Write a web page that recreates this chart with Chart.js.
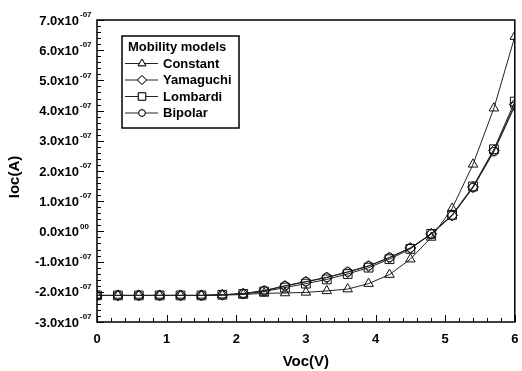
<!DOCTYPE html>
<html>
<head>
<meta charset="utf-8">
<script src="https://cdn.jsdelivr.net/npm/chart.js@4/dist/chart.umd.min.js"></script>
<style>
    html, body { margin: 0; padding: 0; background: #fff; }
    #wrap { width: 522px; height: 371px; }
</style>
</head>
<body>
<div id="wrap"><canvas id="chart"></canvas></div>
<script>
// Voc (V) sweep and Ioc (A) for each mobility model
const voc = [0, 0.3, 0.6, 0.9, 1.2, 1.5, 1.8, 2.1, 2.4, 2.7, 3.0, 3.3, 3.6, 3.9, 4.2, 4.5, 4.8, 5.1, 5.4, 5.7, 6.0];
const constantIoc = [-2.12e-7, -2.12e-7, -2.12e-7, -2.12e-7, -2.12e-7, -2.12e-7, -2.11e-7, -2.09e-7, -2.05e-7, -2.04e-7, -2.02e-7, -1.97e-7, -1.91e-7, -1.73e-7, -1.43e-7, -0.92e-7, -0.2e-7, 0.76e-7, 2.22e-7, 4.08e-7, 6.45e-7];
const yamaguchiIoc = [-2.12e-7, -2.12e-7, -2.12e-7, -2.12e-7, -2.12e-7, -2.12e-7, -2.1e-7, -2.06e-7, -1.97e-7, -1.81e-7, -1.67e-7, -1.53e-7, -1.35e-7, -1.15e-7, -0.87e-7, -0.55e-7, -0.08e-7, 0.53e-7, 1.47e-7, 2.68e-7, 4.2e-7];
const lombardiIoc = [-2.12e-7, -2.12e-7, -2.12e-7, -2.12e-7, -2.12e-7, -2.12e-7, -2.1e-7, -2.07e-7, -1.99e-7, -1.86e-7, -1.73e-7, -1.59e-7, -1.41e-7, -1.2e-7, -0.92e-7, -0.58e-7, -0.08e-7, 0.55e-7, 1.49e-7, 2.72e-7, 4.3e-7];
const bipolarIoc = [-2.12e-7, -2.12e-7, -2.12e-7, -2.12e-7, -2.12e-7, -2.12e-7, -2.1e-7, -2.06e-7, -1.96e-7, -1.8e-7, -1.66e-7, -1.52e-7, -1.34e-7, -1.14e-7, -0.86e-7, -0.55e-7, -0.09e-7, 0.52e-7, 1.45e-7, 2.64e-7, 4.15e-7];

const seriesNames = ['Constant', 'Yamaguchi', 'Lombardi', 'Bipolar'];
const seriesMarkers = ['triangle', 'rectRot', 'rect', 'circle'];

// y tick labels are written as mantissa x10^exponent
const yTickValues = [-3e-7, -2e-7, -1e-7, 0, 1e-7, 2e-7, 3e-7, 4e-7, 5e-7, 6e-7, 7e-7];
const yTickMantissa = ['-3.0', '-2.0', '-1.0', '0.0', '1.0', '2.0', '3.0', '4.0', '5.0', '6.0', '7.0'];
const yTickExponent = ['-07', '-07', '-07', '00', '-07', '-07', '-07', '-07', '-07', '-07', '-07'];

const FONT = 'Arial, "Liberation Sans", sans-serif';
const markerRadius = { triangle: 5.5, rectRot: 5.5, rect: 6.2, circle: 4.3 };

function makeDataset(label, values, marker) {
    return {
        label: label,
        data: voc.map((x, i) => ({ x: x, y: values[i] })),
        borderColor: '#222',
        borderWidth: 1,
        pointStyle: marker,
        pointRadius: markerRadius[marker],
        pointBorderColor: '#111',
        pointBorderWidth: 1,
        pointBackgroundColor: 'rgba(255,255,255,0)',
        tension: 0
    };
}

// frame, inward ticks, y labels with superscripts, y title, boxed legend
const decorPlugin = {
    id: 'decor',
    afterDraw(chart) {
        const ctx = chart.ctx;
        const area = chart.chartArea;
        const xs = chart.scales.x;
        const ys = chart.scales.y;
        ctx.save();
        ctx.strokeStyle = '#000';
        ctx.lineWidth = 1.5;
        ctx.strokeRect(area.left, area.top, area.right - area.left, area.bottom - area.top);

        ctx.lineWidth = 1;
        ctx.beginPath();
        for (let i = 0; i <= 30; i++) {
            const px = Math.round(xs.getPixelForValue(i * 0.2)) + 0.5;
            const len = i % 5 === 0 ? 7 : 4;
            ctx.moveTo(px, area.bottom);
            ctx.lineTo(px, area.bottom - len);
        }
        for (let i = 0; i <= 50; i++) {
            const py = Math.round(ys.getPixelForValue(-3e-7 + i * 0.2e-7)) + 0.5;
            const len = i % 5 === 0 ? 7 : 4;
            ctx.moveTo(area.left, py);
            ctx.lineTo(area.left + len, py);
        }
        ctx.stroke();

        ctx.fillStyle = '#000';
        ctx.textBaseline = 'middle';
        yTickValues.forEach((v, i) => {
            const py = ys.getPixelForValue(v);
            ctx.font = 'bold 13px ' + FONT;
            ctx.textAlign = 'right';
            ctx.fillText(yTickMantissa[i] + 'x10', 79, py + 1);
            ctx.font = 'bold 8px ' + FONT;
            ctx.textAlign = 'left';
            ctx.fillText(yTickExponent[i], 80, py - 5);
        });

        ctx.save();
        ctx.translate(15, (area.top + area.bottom) / 2 + 6);
        ctx.rotate(-Math.PI / 2);
        ctx.font = 'bold 15px ' + FONT;
        ctx.textAlign = 'center';
        ctx.fillText('Ioc(A)', 0, 0);
        ctx.restore();

        // legend box
        const lx = 122, ly = 36, lw = 117, lh = 92;
        ctx.fillStyle = '#fff';
        ctx.fillRect(lx, ly, lw, lh);
        ctx.lineWidth = 1.5;
        ctx.strokeRect(lx, ly, lw, lh);
        ctx.fillStyle = '#000';
        ctx.textAlign = 'left';
        ctx.font = 'bold 13px ' + FONT;
        ctx.fillText('Mobility models', 128, 47);
        seriesNames.forEach((name, i) => {
            const y = 63 + i * 16.5;
            ctx.strokeStyle = '#222';
            ctx.lineWidth = 1;
            ctx.beginPath();
            ctx.moveTo(125, y + 0.5);
            ctx.lineTo(158, y + 0.5);
            ctx.stroke();
            ctx.fillStyle = '#fff';
            ctx.strokeStyle = '#111';
            Chart.helpers.drawPoint(ctx, { pointStyle: seriesMarkers[i], radius: markerRadius[seriesMarkers[i]] - 1, borderWidth: 1, rotation: 0 }, 142, y + 0.5);
            ctx.fill();
            ctx.stroke();
            ctx.fillStyle = '#000';
            ctx.font = 'bold 13px ' + FONT;
            ctx.fillText(name, 163, y + 1);
        });
        ctx.restore();
    }
};

new Chart(document.getElementById('chart'), {
    type: 'line',
    data: {
        datasets: seriesNames.map((name, i) =>
            makeDataset(name, [constantIoc, yamaguchiIoc, lombardiIoc, bipolarIoc][i], seriesMarkers[i]))
    },
    options: {
        responsive: true,
        maintainAspectRatio: false,
        animation: false,
        layout: { padding: { top: 20, right: 3, left: 0, bottom: 0 } },
        plugins: { legend: { display: false }, tooltip: { enabled: false } },
        scales: {
            x: {
                type: 'linear',
                min: 0,
                max: 6,
                border: { display: false },
                grid: { display: false, drawTicks: false },
                ticks: {
                    stepSize: 1,
                    padding: 10,
                    color: '#000',
                    font: { family: FONT, size: 13, weight: 'bold' }
                },
                title: {
                    display: true,
                    text: 'Voc(V)',
                    color: '#000',
                    padding: { top: 0, bottom: 0 },
                    font: { family: FONT, size: 15, weight: 'bold' }
                },
                afterFit(scale) {
                    scale.height = 49;
                    scale.paddingLeft = 0;
                    scale.paddingRight = 0;
                }
            },
            y: {
                type: 'linear',
                min: -3e-7,
                max: 7e-7,
                border: { display: false },
                grid: { display: false, drawTicks: false },
                ticks: { display: false, stepSize: 1e-7 },
                afterFit(scale) { scale.width = 97; }
            }
        }
    },
    plugins: [decorPlugin]
});
</script>
</body>
</html>
